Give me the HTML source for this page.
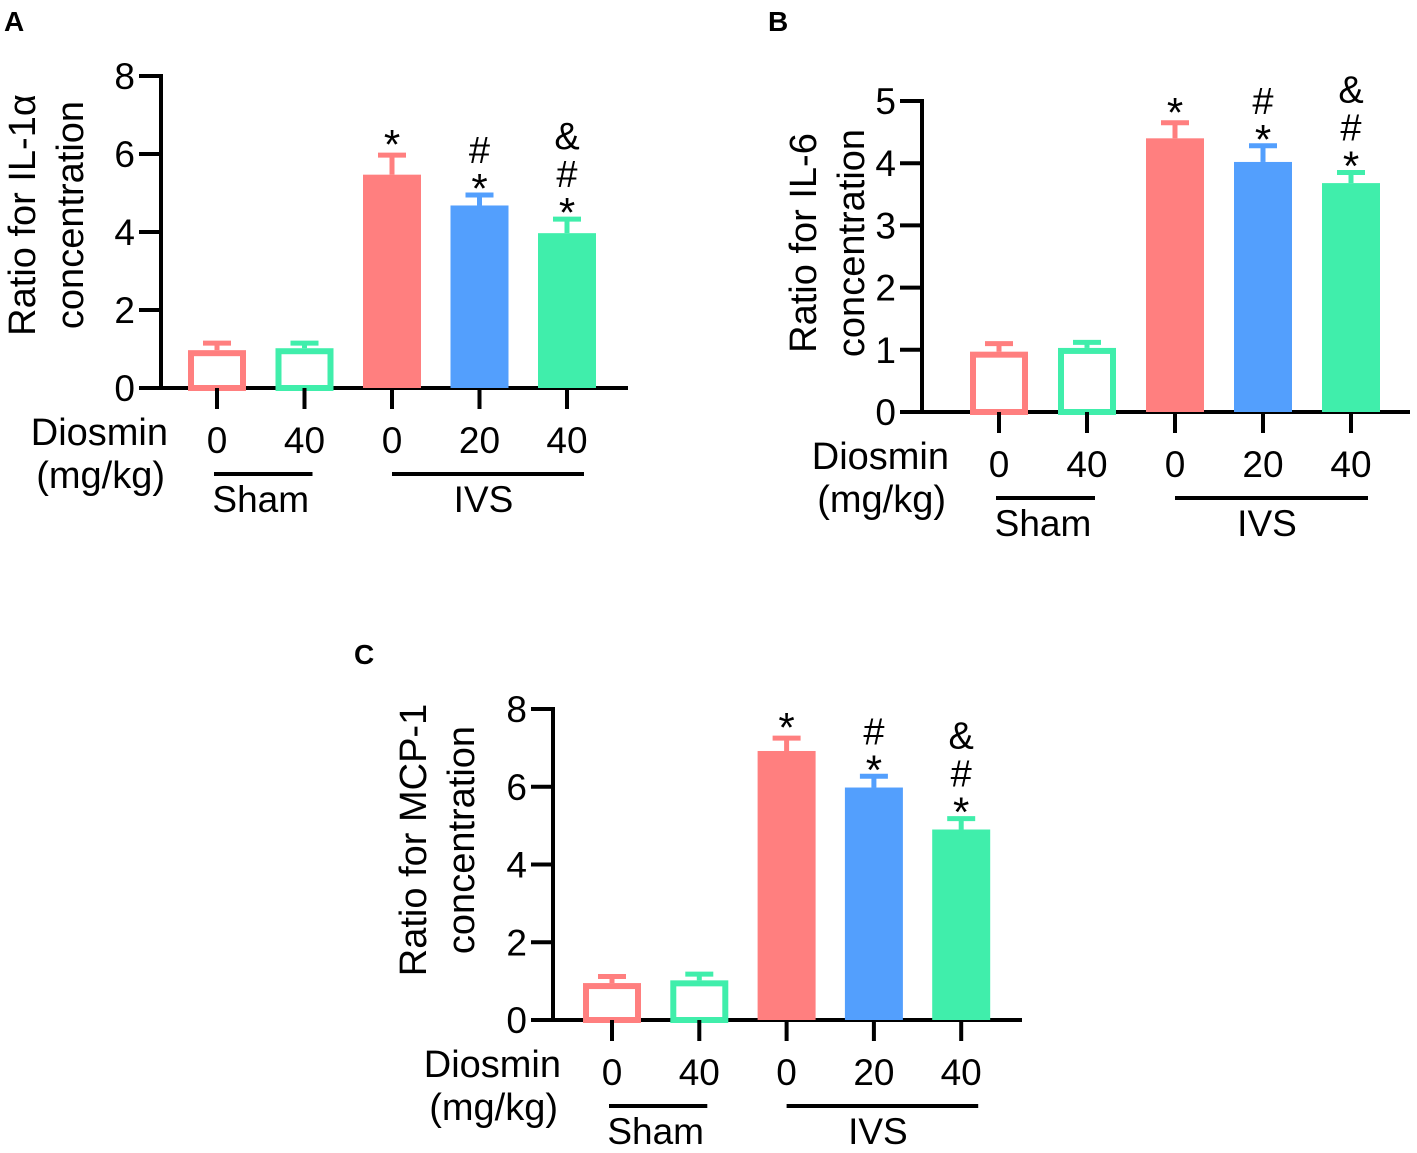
<!DOCTYPE html>
<html><head><meta charset="utf-8"><style>
html,body{margin:0;padding:0;background:#fff}
svg{display:block;font-family:"Liberation Sans",Arial,sans-serif}
</style></head><body>
<svg id="fig" width="1417" height="1153" viewBox="0 0 1417 1153"></svg>
<script>
const groups = ["0","40","0","20","40"];
const colors = ["#ff7f7f","#40eeab","#ff7f7f","#539ffd","#40eeab"];
const hollow = [true,true,false,false,false];
const valsA = [0.97,1.02,5.47,4.68,3.97];
const errA = [1.15,1.15,5.97,4.95,4.33];
const valsB = [0.97,1.03,4.4,4.02,3.68];
const errB = [1.1,1.12,4.65,4.28,3.85];
const valsC = [0.95,1.02,6.92,5.98,4.9];
const errC = [1.12,1.18,7.25,6.27,5.18];
const sigA = ["","","*","#\n*","&\n#\n*"];
const ticksA = [0,2,4,6,8];
const ticksB = [0,1,2,3,4,5];
const ticksC = [0,2,4,6,8];

const NS="http://www.w3.org/2000/svg";
const svg=document.getElementById('fig');
function mk(tag,attrs,parent,text){const e=document.createElementNS(NS,tag);for(const k in attrs)e.setAttribute(k,attrs[k]);if(text!==undefined)e.textContent=text;(parent||svg).appendChild(e);return e;}

function panel(p){
  const g=mk('g',{});
  
  
  const ymax=p.ticks[p.ticks.length-1];
  const y=v=>p.y0-(v/ymax)*(p.y0-p.ytop);
  const lt=mk('text',{x:p.lx,y:p.ly,'font-size':28,'font-weight':'bold'},g,p.letter);
  
  const ya=mk('line',{x1:p.x0,y1:p.ytop-2,x2:p.x0,y2:p.y0+2,stroke:'#000','stroke-width':4},g);
  
  const xa=mk('line',{x1:p.x0-22,y1:p.y0,x2:p.xend,y2:p.y0,stroke:'#000','stroke-width':4},g);
  
  p.ticks.forEach(t=>{
    const ty=y(t);
    if(t>0) mk('line',{x1:p.x0-22,y1:ty,x2:p.x0,y2:ty,stroke:'#000','stroke-width':4},g);
    const tl=mk('text',{x:p.x0-26,y:ty+13,'font-size':37,'text-anchor':'end'},g,String(t));
    
  });
  const tt=mk('text',{transform:`translate(${p.tx},${p.ty}) rotate(-90)`,'font-size':38,'text-anchor':'middle'},g);
  
  mk('tspan',{x:0,y:0},tt,p.title);
  mk('tspan',{x:0,y:48},tt,'concentration');
  const bw=58;
  p.vals.forEach((v,i)=>{
    const cx=p.cx0+i*p.dx;
    const c=colors[i];
    const eb=mk('g',{},g);
    
    mk('line',{x1:cx,y1:y(v),x2:cx,y2:y(p.err[i]),stroke:c,'stroke-width':5},eb);
    mk('line',{x1:cx-14,y1:y(p.err[i]),x2:cx+14,y2:y(p.err[i]),stroke:c,'stroke-width':5},eb);
    let r;
    if(hollow[i]) r=mk('rect',{x:cx-bw/2+3,y:y(v)+3,width:bw-6,height:p.y0-y(v)-3,fill:'#fff',stroke:c,'stroke-width':6},g);
    else r=mk('rect',{x:cx-bw/2,y:y(v),width:bw,height:p.y0-y(v),fill:c},g);
    
    
    mk('line',{x1:cx,y1:p.y0,x2:cx,y2:p.y0+21,stroke:'#000','stroke-width':4},g);
    const xl=mk('text',{x:cx,y:p.y0+65,'font-size':37,'text-anchor':'middle'},g,groups[i]);
    
    const lines=sigA[i]?sigA[i].split('\n'):[];
    const e=y(p.err[i]);
    const offs=lines.length===1?[4]:[8,-32,-70];
    lines.reverse().forEach((s,k)=>{
      const st=mk('text',{x:cx,y:e+offs[k],'font-size':s==='*'?42:38,'text-anchor':'middle'},g,s);
      
    });
  });
  const d1=mk('text',{x:p.dr,y:p.y0+57,'font-size':38,'text-anchor':'end'},g,'Diosmin');
  
  const d2=mk('text',{x:p.dr-3,y:p.y0+100,'font-size':38,'text-anchor':'end'},g,'(mg/kg)');
  
  const c0=p.cx0, c1=p.cx0+p.dx, c2=p.cx0+2*p.dx, c4=p.cx0+4*p.dx;
  mk('line',{x1:c0-3,y1:p.y0+86,x2:c1+8,y2:p.y0+86,stroke:'#000','stroke-width':4},g);
  mk('line',{x1:c2,y1:p.y0+86,x2:c4+17,y2:p.y0+86,stroke:'#000','stroke-width':4},g);
  const s1=mk('text',{x:(c0+c1)/2,y:p.y0+124,'font-size':37,'text-anchor':'middle'},g,'Sham');
  
  const s2=mk('text',{x:(c2+c4)/2+4,y:p.y0+124,'font-size':37,'text-anchor':'middle'},g,'IVS');
  
}
panel({letter:'A',lx:4,ly:31,x0:161,y0:388,ytop:76,xend:628,ticks:ticksA,vals:valsA,err:errA,cx0:217,dx:87.5,title:'Ratio for IL-1α',tx:35,ty:215,dr:168});
panel({letter:'B',lx:768,ly:31,x0:922,y0:412,ytop:101,xend:1410,ticks:ticksB,vals:valsB,err:errB,cx0:999,dx:88,title:'Ratio for IL-6',tx:816,ty:243,dr:949});
panel({letter:'C',lx:354,ly:664,x0:553,y0:1020,ytop:709,xend:1022,ticks:ticksC,vals:valsC,err:errC,cx0:612,dx:87.3,title:'Ratio for MCP-1',tx:426,ty:840,dr:561});
</script>
</body></html>
